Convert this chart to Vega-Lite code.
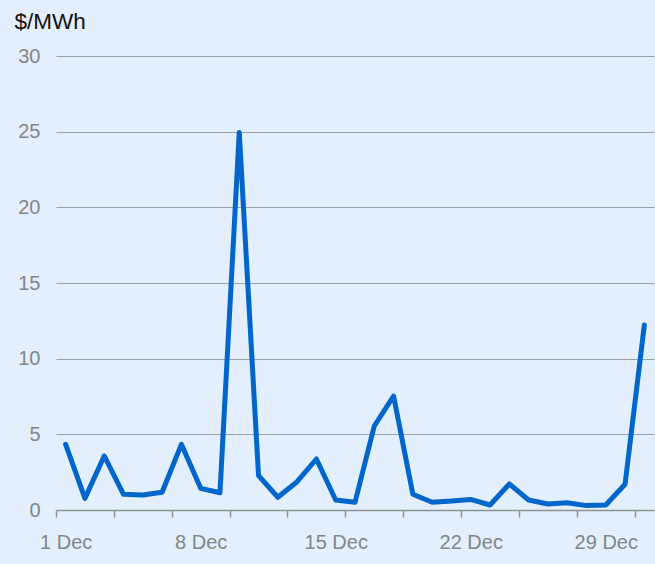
{
  "$schema": "https://vega.github.io/schema/vega-lite/v6.json",
  "width": 598,
  "height": 454,
  "autosize": {"type": "none"},
  "padding": {"left": 56, "top": 56, "right": 1, "bottom": 54},
  "background": "#e3effd",
  "config": {
    "view": {"stroke": null},
    "font": "Liberation Sans",
    "axis": {"labelFont": "Liberation Sans", "titleFont": "Liberation Sans"}
  },
  "data": {
    "values": [
      {"day": 1, "price": 4.34},
      {"day": 2, "price": 0.77},
      {"day": 3, "price": 3.57},
      {"day": 4, "price": 1.04},
      {"day": 5, "price": 0.99},
      {"day": 6, "price": 1.17},
      {"day": 7, "price": 4.34},
      {"day": 8, "price": 1.43},
      {"day": 9, "price": 1.14},
      {"day": 10, "price": 24.95},
      {"day": 11, "price": 2.27},
      {"day": 12, "price": 0.84},
      {"day": 13, "price": 1.87},
      {"day": 14, "price": 3.37},
      {"day": 15, "price": 0.66},
      {"day": 16, "price": 0.51},
      {"day": 17, "price": 5.55},
      {"day": 18, "price": 7.53},
      {"day": 19, "price": 1.04},
      {"day": 20, "price": 0.51},
      {"day": 21, "price": 0.59},
      {"day": 22, "price": 0.7},
      {"day": 23, "price": 0.33},
      {"day": 24, "price": 1.72},
      {"day": 25, "price": 0.66},
      {"day": 26, "price": 0.4},
      {"day": 27, "price": 0.48},
      {"day": 28, "price": 0.29},
      {"day": 29, "price": 0.33},
      {"day": 30, "price": 1.7},
      {"day": 31, "price": 12.23}
    ]
  },
  "encoding": {
    "y": {
      "field": "price", "type": "quantitative",
      "scale": {"domain": [0, 30], "nice": false},
      "axis": {
        "values": [0, 5, 10, 15, 20, 25, 30],
        "domain": false, "ticks": false, "tickSize": 0,
        "grid": true, "gridColor": "#9aa3a6", "gridWidth": 1,
        "labelFontSize": 20, "labelColor": "#7f8789", "labelPadding": 16,
        "title": "$/MWh", "titleAngle": 0, "titleAlign": "left", "titleBaseline": "alphabetic",
        "titleX": -42, "titleY": -28, "titleFontSize": 22.5, "titleFontWeight": "normal", "titleColor": "#111111"
      }
    }
  },
  "layer": [
    {
      "mark": {"type": "line", "color": "#0066cc", "strokeWidth": 5, "strokeJoin": "round", "strokeCap": "round"},
      "encoding": {
        "x": {
          "field": "day", "type": "quantitative",
          "scale": {"domain": [0.5, 31.5], "nice": false, "zero": false},
          "axis": {
            "orient": "bottom",
            "values": [0.5, 3.5, 6.5, 9.5, 12.5, 15.5, 18.5, 21.5, 24.5, 27.5, 30.5],
            "labels": false, "grid": false, "title": null,
            "domainColor": "#8a9497", "domainWidth": 1.5,
            "tickColor": "#8a9497", "tickSize": 7, "tickWidth": 1.5
          }
        }
      }
    },
    {
      "mark": {"type": "line", "strokeOpacity": 0},
      "encoding": {
        "x": {
          "field": "day", "type": "quantitative",
          "axis": {
            "orient": "bottom",
            "values": [1, 8, 15, 22, 29],
            "labelExpr": "datum.value + ' Dec'",
            "ticks": false, "tickSize": 0, "domain": false, "grid": false, "title": null,
            "labelFontSize": 20, "labelColor": "#7f8789", "labelBaseline": "alphabetic", "labelPadding": 38
          }
        }
      }
    }
  ],
  "resolve": {"axis": {"x": "independent"}}
}
